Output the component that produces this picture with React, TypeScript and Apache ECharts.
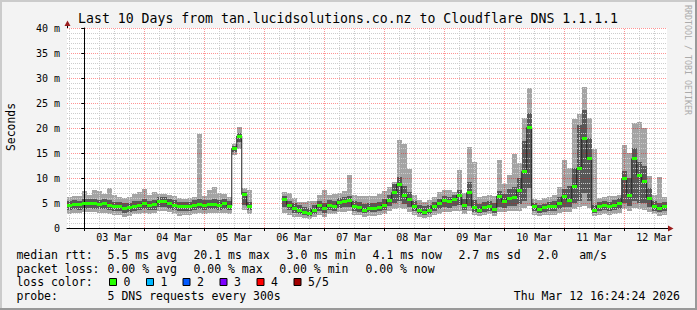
import React, { useEffect, useRef } from "react";
import * as echarts from "echarts";

// time base: hours from 03 Mar 00:00, one step = 2 hours
const START_HOUR = -6;
const STEP_HOURS = 2;
const AXIS_MIN_HOUR = -6.9;
const AXIS_MAX_HOUR = 233.1;

const dayLabels = ["03 Mar", "04 Mar", "05 Mar", "06 Mar", "07 Mar", "08 Mar", "09 Mar", "10 Mar", "11 Mar", "12 Mar"];

// median rtt (ms)
const medianMs: (number | null)[] = [
  4.5, 4.8, 4.7, 4.9, 5.0, 4.9, 4.8, 4.9, 4.6, 4.3,
  4.4, 3.9, 4.1, 4.4, 4.5, 4.9, 4.5, 4.7, 5.3, 5.4,
  4.9, 4.6, 4.3, 4.3, 4.4, 4.6, 4.8, 4.6, 4.7, 4.8,
  4.6, 4.9, 4.4, 15.9, 18.4, 6.7, 4.4, null, null, null,
  null, null, null, 5.7, 4.6, 3.9, 3.6, 3.1, 3.0, 3.6,
  4.6, 3.9, 4.6, 4.4, 5.1, 5.3, 5.5, 4.3, 4.1, 3.6,
  3.9, 3.9, 4.2, 4.6, 5.6, 7.1, 8.8, 6.6, 5.7, 4.4,
  3.6, 3.1, 3.6, 4.3, 4.9, 5.6, 5.3, 5.7, 6.6, 4.6,
  7.1, 4.1, 3.6, 4.1, 4.4, 3.7, 6.4, 5.3, 5.9, 6.1,
  7.6, 11.3, 20.1, 4.4, 3.7, 4.1, 4.4, 4.3, 4.9, 6.3,
  5.6, 8.3, 11.9, 17.9, 13.9, 3.6, 4.3, 4.6, 4.3, 4.6,
  4.9, 9.9, 6.6, 13.9, 10.6, 9.3, 6.0, 4.4, 3.9, 4.4,
];
// fastest ping (ms)
const ping1Ms: (number | null)[] = [
  2.9, 3.0, 3.1, 3.2, 3.3, 3.2, 3.1, 3.0, 2.9, 2.7,
  2.6, 2.3, 2.5, 2.8, 2.9, 3.1, 2.8, 3.0, 3.4, 3.5,
  3.2, 2.9, 2.5, 2.6, 2.7, 2.9, 3.0, 2.9, 3.0, 3.1,
  3.0, 3.1, 2.9, 14.6, 15.8, 3.6, 2.9, null, null, null,
  null, null, null, 3.0, 2.7, 2.3, 2.2, 2.0, 1.9, 2.2,
  2.6, 2.3, 2.9, 2.8, 3.2, 3.3, 3.4, 2.7, 2.6, 2.3,
  2.5, 2.5, 2.6, 2.9, 3.4, 3.8, 4.0, 3.8, 3.3, 2.7,
  2.3, 2.0, 2.2, 2.6, 2.9, 3.3, 3.2, 3.4, 3.5, 2.9,
  3.4, 2.6, 2.4, 2.6, 2.8, 2.5, 3.2, 3.2, 3.4, 3.5,
  3.5, 4.0, 4.5, 2.6, 2.4, 2.6, 2.7, 2.7, 3.0, 3.2,
  3.3, 3.8, 4.2, 4.5, 4.0, 2.4, 2.6, 2.8, 2.7, 2.9,
  3.0, 3.8, 3.4, 4.0, 3.8, 3.7, 3.3, 2.8, 2.5, 2.6,
];
// second ping (ms)
const ping2Ms: (number | null)[] = [
  3.6, 3.8, 3.7, 3.9, 4.0, 3.9, 3.8, 3.9, 3.6, 3.4,
  3.4, 3.1, 3.2, 3.5, 3.6, 3.9, 3.6, 3.7, 4.2, 4.3,
  3.9, 3.7, 3.4, 3.4, 3.5, 3.7, 3.8, 3.7, 3.8, 3.9,
  3.7, 3.9, 3.6, 15.3, 17.2, 4.6, 3.6, null, null, null,
  null, null, null, 4.2, 3.6, 3.1, 2.9, 2.6, 2.5, 2.8,
  3.5, 3.1, 3.6, 3.5, 4.0, 4.2, 4.3, 3.5, 3.3, 3.0,
  3.2, 3.2, 3.4, 3.7, 4.4, 5.0, 5.4, 4.9, 4.3, 3.5,
  2.9, 2.6, 2.9, 3.4, 3.8, 4.3, 4.1, 4.4, 4.6, 3.6,
  4.5, 3.3, 3.0, 3.3, 3.5, 3.1, 4.2, 4.1, 4.4, 4.5,
  4.8, 5.5, 8.0, 3.4, 3.1, 3.3, 3.5, 3.5, 3.8, 4.2,
  4.2, 5.0, 5.5, 7.0, 5.5, 3.0, 3.4, 3.6, 3.5, 3.6,
  3.8, 5.0, 4.4, 5.5, 5.0, 5.0, 4.2, 3.5, 3.2, 3.4,
];
// fourth ping (ms)
const ping4Ms: (number | null)[] = [
  5.4, 5.6, 5.5, 5.8, 5.9, 5.8, 5.7, 5.8, 5.6, 5.3,
  5.3, 5.0, 5.1, 5.4, 5.5, 5.8, 5.5, 5.7, 6.2, 6.3,
  5.9, 5.6, 5.3, 5.2, 5.3, 5.6, 5.8, 5.6, 5.7, 5.9,
  5.6, 5.8, 5.4, 16.4, 19.0, 7.3, 5.3, null, null, null,
  null, null, null, 6.4, 5.5, 5.0, 4.6, 4.2, 4.0, 4.6,
  5.5, 5.0, 5.6, 5.4, 6.0, 6.2, 6.4, 5.4, 5.2, 4.8,
  5.0, 5.0, 5.3, 5.8, 6.6, 8.9, 10.3, 8.5, 7.2, 5.5,
  4.7, 4.4, 4.7, 5.3, 5.9, 6.5, 6.3, 6.7, 7.7, 5.8,
  9.3, 5.6, 4.8, 5.2, 5.5, 5.0, 7.5, 6.8, 7.8, 8.2,
  10.0, 17.5, 23.0, 5.0, 4.6, 4.9, 5.3, 5.4, 6.3, 7.8,
  8.5, 12.0, 20.6, 23.6, 18.0, 4.6, 5.2, 5.5, 5.3, 5.6,
  6.0, 11.5, 10.0, 16.0, 13.3, 12.5, 8.0, 5.5, 5.0, 5.2,
];
// slowest ping (ms)
const ping5Ms: (number | null)[] = [
  6.3, 6.4, 6.5, 7.5, 6.6, 7.6, 7.4, 6.8, 8.1, 6.6,
  6.2, 6.0, 6.3, 6.9, 7.2, 7.8, 6.6, 7.3, 6.9, 6.8,
  6.7, 6.4, 6.0, 5.9, 6.0, 6.2, 18.9, 6.5, 7.6, 8.2,
  7.0, 6.9, 6.3, 16.9, 20.2, 8.1, 7.6, null, null, null,
  null, null, null, 7.3, 7.0, 6.0, 5.3, 5.3, 5.4, 5.4,
  6.7, 7.7, 6.7, 6.9, 7.1, 7.4, 10.6, 6.7, 6.4, 6.5,
  6.4, 6.5, 6.8, 7.5, 8.2, 9.3, 17.6, 16.9, 11.9, 6.6,
  5.6, 5.3, 5.6, 6.3, 7.3, 7.6, 7.7, 7.3, 11.6, 7.0,
  16.3, 13.3, 6.2, 6.4, 6.6, 6.5, 13.6, 8.8, 10.6, 14.9,
  13.0, 22.0, 28.0, 5.8, 5.7, 6.0, 6.3, 6.6, 8.3, 13.6,
  12.0, 21.9, 22.9, 28.3, 22.0, 15.9, 6.0, 6.3, 6.4, 6.5,
  6.7, 16.6, 15.0, 21.1, 21.3, 20.0, 10.5, 6.6, 10.3, 6.3,
];

const rttLegend = [
  { x: 16.4, t: "median rtt:" },
  { x: 107.6, t: "5.5 ms avg" },
  { x: 193.4, t: "20.1 ms max" },
  { x: 286.6, t: "3.0 ms min" },
  { x: 372.6, t: "4.1 ms now" },
  { x: 458.4, t: "2.7 ms sd" },
  { x: 537.4, t: "2.0" },
  { x: 579.2, t: "am/s" },
];
const lossLegend = [
  { x: 16.4, t: "packet loss:" },
  { x: 107.6, t: "0.00 % avg" },
  { x: 193.4, t: "0.00 % max" },
  { x: 279.2, t: "0.00 % min" },
  { x: 365.4, t: "0.00 % now" },
];
const lossColors = [
  { x: 109, label: "0", color: "#26ff00" },
  { x: 146, label: "1", color: "#00b8ff" },
  { x: 182.5, label: "2", color: "#0059ff" },
  { x: 219.5, label: "3", color: "#7e00ff" },
  { x: 256.5, label: "4", color: "#ff0000" },
  { x: 293.5, label: "5/5", color: "#a10000" },
];
const titleText = "Last 10 Days from tan.lucidsolutions.co.nz to Cloudflare DNS 1.1.1.1";
const probeText = "5 DNS requests every 300s";
const stampText = "Thu Mar 12 16:24:24 2026";

const MONO = "DejaVu Sans Mono";

export default function App() {
  const ref = useRef<HTMLDivElement>(null);
  useEffect(() => {
    document.body.style.margin = "0";
    const chart = echarts.init(ref.current!, undefined, { renderer: "svg" });

    const hours = medianMs.map((_, i) => START_HOUR + i * STEP_HOURS);
    const smokeData = hours
      .map((h, i) => [h, ping1Ms[i], ping2Ms[i], ping4Ms[i], ping5Ms[i]])
      .filter((d) => d[1] != null);
    const medianLine = hours.map((h, i) => [h, medianMs[i]]);
    const medianDots = medianLine.filter((d) => d[1] != null);
    const gridHours: number[] = [];
    for (let h = -6; h <= 230; h += 6) gridHours.push(h);
    const midnightHours = dayLabels.map((_, i) => i * 24);
    const noonHours = dayLabels.map((_, i) => 12 + i * 24);

    const legendText = (x: number, y: number, t: string, align = "left") => ({
      type: "text",
      x,
      y,
      style: { text: t, fill: "#000", font: `11.5px ${MONO}`, align, verticalAlign: "middle" },
    });

    const graphics: any[] = [
      // frame
      { type: "rect", shape: { x: 0, y: 0, width: 697, height: 2 }, style: { fill: "#cbcbcb" } },
      { type: "rect", shape: { x: 0, y: 0, width: 2, height: 310 }, style: { fill: "#cbcbcb" } },
      { type: "rect", shape: { x: 0, y: 308, width: 697, height: 2 }, style: { fill: "#999999" } },
      { type: "rect", shape: { x: 695, y: 0, width: 2, height: 310 }, style: { fill: "#999999" } },
      {
        type: "text",
        x: 348,
        y: 18.7,
        style: { text: titleText, fill: "#000", font: `13.2px ${MONO}`, align: "center", verticalAlign: "middle" },
      },
      {
        type: "text",
        x: 10.5,
        y: 127,
        rotation: Math.PI / 2,
        style: { text: "Seconds", fill: "#000", font: `11.4px ${MONO}`, align: "center", verticalAlign: "middle" },
      },
      {
        type: "text",
        x: 688,
        y: 60,
        rotation: -Math.PI / 2,
        style: { text: "RRDTOOL / TOBI OETIKER", fill: "#ababab", font: `8.3px ${MONO}`, align: "center", verticalAlign: "middle" },
      },
      // axis arrows
      { type: "line", shape: { x1: 67.5, y1: 28, x2: 67.5, y2: 24 }, style: { stroke: "#000", lineWidth: 1 } },
      { type: "polygon", shape: { points: [[64.5, 26], [67.5, 20.5], [70.5, 26]] }, style: { fill: "#9b1c1c" } },
      { type: "line", shape: { x1: 667, y1: 228.5, x2: 669, y2: 228.5 }, style: { stroke: "#000", lineWidth: 1 } },
      { type: "polygon", shape: { points: [[668, 225.5], [673.5, 228.5], [668, 231.5]] }, style: { fill: "#9b1c1c" } },
    ];
    rttLegend.forEach((p) => graphics.push(legendText(p.x, 254.5, p.t)));
    lossLegend.forEach((p) => graphics.push(legendText(p.x, 268.5, p.t)));
    graphics.push(legendText(16.4, 282.3, "loss color:"));
    lossColors.forEach((c) => {
      graphics.push({
        type: "rect",
        shape: { x: c.x + 0.5, y: 278.5, width: 7, height: 7 },
        style: { fill: c.color, stroke: "#000", lineWidth: 1 },
      });
      graphics.push(legendText(c.x + 14.6, 282.3, c.label));
    });
    graphics.push(legendText(16.4, 296, "probe:"));
    graphics.push(legendText(107.6, 296, probeText));
    graphics.push(legendText(680, 296, stampText, "right"));

    const option: any = {
      animation: false,
      backgroundColor: "#f3f3f3",
      grid: { left: 67, top: 28, width: 600, height: 200, show: true, backgroundColor: "#ffffff", borderWidth: 0 },
      xAxis: {
        type: "value",
        min: AXIS_MIN_HOUR,
        max: AXIS_MAX_HOUR,
        z: 6,
        axisLine: { show: true, onZero: false, lineStyle: { color: "#000", width: 1 } },
        axisTick: { show: true, customValues: midnightHours, length: 3, lineStyle: { color: "#000" } },
        axisLabel: {
          show: true,
          customValues: noonHours,
          formatter: (v: number) => dayLabels[Math.round((v - 12) / 24)] ?? "",
          fontFamily: MONO,
          fontSize: 10,
          color: "#000",
          margin: 4,
        },
        splitLine: { show: false },
      },
      yAxis: {
        type: "value",
        min: 0,
        max: 40,
        interval: 5,
        z: 3,
        axisLine: { show: true, lineStyle: { color: "#000", width: 1 } },
        axisTick: { show: true, length: 3, lineStyle: { color: "#000" } },
        minorTick: { show: false, splitNumber: 5 },
        minorSplitLine: { show: true, lineStyle: { color: "#cdcdcd", type: [1, 1], width: 1 } },
        splitLine: { show: true, lineStyle: { color: "rgba(255,0,0,0.42)", type: [1, 1], width: 1 } },
        axisLabel: {
          formatter: (v: number) => (v === 0 ? "0" : `${v} m`),
          fontFamily: MONO,
          fontSize: 10,
          color: "#000",
          margin: 7,
        },
      },
      graphic: graphics,
      series: [
        {
          type: "custom",
          name: "smoke",
          z: 2,
          silent: true,
          data: smokeData,
          encode: { x: 0, y: [1, 2, 3, 4] },
          renderItem: (params: any, api: any) => {
            const h = api.value(0);
            const x0 = Math.round(api.coord([h - STEP_HOURS / 2, 0])[0]);
            const x1 = Math.round(api.coord([h + STEP_HOURS / 2, 0])[0]);
            const y = (v: number) => Math.round(api.coord([h, v])[1]);
            const y1 = y(api.value(1));
            const y2 = y(api.value(2));
            const y4 = y(api.value(3));
            const y5 = y(api.value(4));
            return {
              type: "group",
              children: [
                { type: "rect", shape: { x: x0, y: y5, width: x1 - x0, height: Math.max(1, y1 - y5) }, style: { fill: "#a4a4a4" } },
                { type: "rect", shape: { x: x0, y: y4, width: x1 - x0, height: Math.max(1, y2 - y4) }, style: { fill: "#585858" } },
              ],
            };
          },
        },
        {
          type: "custom",
          name: "vgrid",
          z: 3,
          silent: true,
          data: gridHours.map((h) => [h, 0]),
          encode: { x: 0, y: 1 },
          renderItem: (params: any, api: any) => {
            const h = api.value(0);
            const x = Math.round(api.coord([h, 0])[0]) + 0.5;
            const yb = api.coord([h, 0])[1];
            const yt = api.coord([h, 40])[1];
            const major = h % 24 === 0;
            return {
              type: "line",
              shape: { x1: x, y1: yb, x2: x, y2: yt },
              style: { stroke: major ? "rgba(255,0,0,0.42)" : "#cdcdcd", lineWidth: 1, lineDash: [1, 1] },
            };
          },
        },
        {
          type: "line",
          name: "median",
          z: 4,
          silent: true,
          step: "middle",
          showSymbol: false,
          symbol: "none",
          connectNulls: false,
          data: medianLine,
          lineStyle: { color: "#202020", width: 1 },
        },
        {
          type: "custom",
          name: "median loss 0",
          z: 5,
          silent: true,
          data: medianDots,
          encode: { x: 0, y: 1 },
          renderItem: (params: any, api: any) => {
            const h = api.value(0);
            const m = api.value(1);
            const x0 = Math.round(api.coord([h - STEP_HOURS / 2, m])[0]);
            const x1 = Math.round(api.coord([h + STEP_HOURS / 2, m])[0]);
            const yc = api.coord([h, m])[1];
            return {
              type: "rect",
              shape: { x: x0, y: Math.round(yc - 1.5), width: x1 - x0, height: 3 },
              style: { fill: "#26ff00" },
            };
          },
        },
      ],
    };
    chart.setOption(option);
    return () => chart.dispose();
  }, []);
  return <div ref={ref} style={{ width: 697, height: 310 }} />;
}
